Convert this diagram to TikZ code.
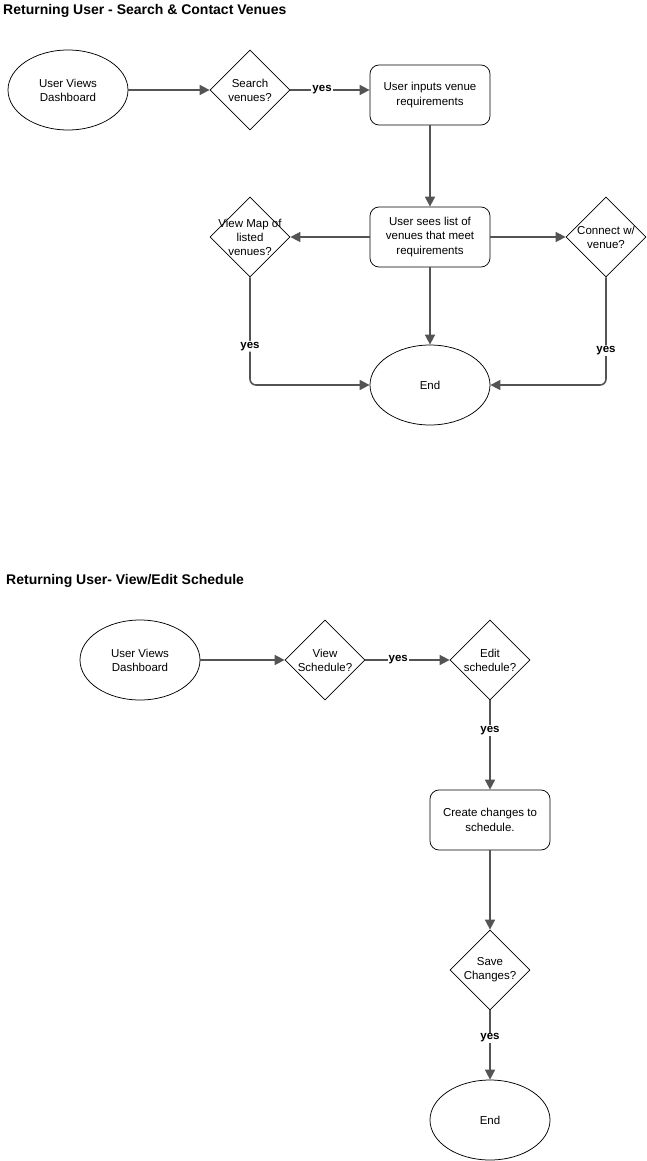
\documentclass[tikz,border=0pt]{standalone}
\usepackage{fontspec}
\setmainfont{Liberation Sans}
\usetikzlibrary{shapes.geometric,arrows.meta}

\begin{document}
\begin{tikzpicture}[
        x=1pt, y=-1pt,
        start/.style={ellipse, draw, line width=0.75pt, minimum width=120pt, minimum height=80pt, align=center, font=\fontsize{11.5}{14}\selectfont},
        decision/.style={diamond, draw, line width=0.75pt, aspect=1, minimum size=80pt, inner sep=-8pt, align=center, font=\fontsize{11.5}{14}\selectfont},
        process/.style={rectangle, draw, line width=0.75pt, rounded corners=9pt, minimum width=120pt, minimum height=60pt, align=center, font=\fontsize{11.5}{14.5}\selectfont},
        flow/.style={draw=black!67, line width=1.6pt, -{Triangle[length=10pt,width=10pt]}},
        edge_label/.style={fill=white, inner sep=1pt, font=\fontsize{11.5}{14}\selectfont\bfseries},
        title/.style={anchor=west, inner sep=0pt, font=\fontsize{14}{16}\selectfont\bfseries}
    ]
        \useasboundingbox (0,0) rectangle (646,1161);

        % Flow 1: search venues, then look at the map or contact a venue
        \node[start] (search_start) at (68,90) {User Views\\Dashboard};
        \node[decision] (search_dec) at (250,90) {Search\\venues?};
        \node[process] (input_box) at (430,95) {User inputs venue\\requirements};
        \node[process] (list_box) at (430,237) {User sees list of\\venues that meet\\requirements};
        \node[decision] (map_dec) at (250,237) {View Map of\\listed\\venues?};
        \node[decision] (connect_dec) at (606,237) {Connect w/\\venue?};
        \node[start] (search_end) at (430,385) {End};
        \draw[flow] (search_start) -- (search_dec);
        \draw[flow] (search_dec) -- (search_dec -| input_box.west) node[edge_label, pos=0.4] {yes};
        \draw[flow] (input_box) -- (list_box);
        \draw[flow] (list_box) -- (map_dec);
        \draw[flow] (list_box) -- (connect_dec);
        \draw[flow] (list_box) -- (search_end);
        \draw[flow, rounded corners=6pt] (map_dec) |- (search_end) node[edge_label, pos=0.32] {yes};
        \draw[flow, rounded corners=6pt] (connect_dec) |- (search_end) node[edge_label, pos=0.34] {yes};

        % Flow 2: view the schedule, edit it and save
        \node[start] (sched_start) at (140,660) {User Views\\Dashboard};
        \node[decision] (view_dec) at (325,660) {View\\Schedule?};
        \node[decision] (edit_dec) at (490,660) {Edit\\schedule?};
        \node[process] (change_box) at (490,820) {Create changes to\\schedule.};
        \node[decision] (save_dec) at (490,970) {Save\\Changes?};
        \node[start] (sched_end) at (490,1120) {End};
        \draw[flow] (sched_start) -- (view_dec);
        \draw[flow] (view_dec) -- (edit_dec) node[edge_label, pos=0.39] {yes};
        \draw[flow] (edit_dec) -- (change_box) node[edge_label, pos=0.34] {yes};
        \draw[flow] (change_box) -- (save_dec);
        \draw[flow] (save_dec) -- (sched_end) node[edge_label, pos=0.4] {yes};

        % Labels
        \node[title] (search_title) at (3,11) {Returning User - Search \& Contact Venues};
        \node[title] (sched_title) at (6,581) {Returning User- View/Edit Schedule};

    \end{tikzpicture}
\end{document}
